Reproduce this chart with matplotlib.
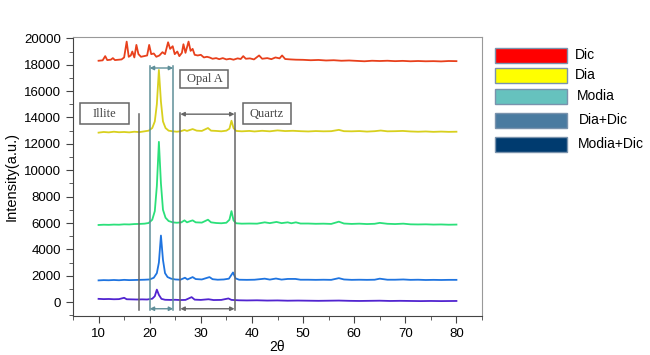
import matplotlib
matplotlib.use('Agg')
import matplotlib.pyplot as plt
from matplotlib.patches import Rectangle

plt.rcParams['font.family'] = ['Liberation Sans', 'DejaVu Sans']

# XRD traces, points (2theta, intensity)
dic_pts = [(10, 18300), (10.8, 18330), (11.3, 18650), (11.7, 18350), (12.4, 18380), (12.8, 18500),
           (13.2, 18350), (14.5, 18400), (15.0, 18550), (15.5, 19750), (15.9, 18600), (16.3, 18700),
           (16.6, 19000), (17.0, 18550), (17.4, 19500), (17.8, 18800), (18.3, 18600), (18.9, 18650),
           (19.5, 18700), (19.9, 19500), (20.3, 18800), (20.8, 18850), (21.3, 18600), (21.9, 18700),
           (22.5, 18950), (23.0, 18800), (23.6, 19700), (24.0, 19200), (24.5, 19400), (24.9, 18800),
           (25.4, 19000), (25.8, 18650), (26.3, 18900), (26.6, 19550), (27.0, 18900), (27.6, 19750),
           (28.0, 19050), (28.4, 19200), (28.8, 18750), (29.4, 18700), (30.0, 18750), (30.6, 18550),
           (31.2, 18600), (31.7, 18550), (32.3, 18450), (33.0, 18500), (33.6, 18420), (34.3, 18500),
           (35.0, 18400), (35.7, 18450), (36.4, 18380), (37.2, 18480), (37.8, 18430), (38.3, 18650),
           (38.8, 18450), (39.6, 18480), (40.4, 18400), (41.4, 18700), (42.0, 18450), (43.0, 18500),
           (43.8, 18420), (44.6, 18550), (45.4, 18480), (45.9, 18700), (46.5, 18430), (47.6, 18400),
           (48.6, 18380), (50, 18370), (51.5, 18340), (53, 18360), (54.5, 18320), (56, 18340),
           (57.5, 18300), (59, 18320), (60.5, 18290), (62, 18260), (63.5, 18300), (65, 18280),
           (66.5, 18300), (68, 18270), (69.5, 18290), (71, 18260), (72.5, 18280), (74, 18260),
           (75.5, 18270), (77, 18250), (78.5, 18280), (80, 18270)]

dia_pts = [(10, 12850), (11, 12900), (12, 12870), (13, 12920), (14, 12880), (15, 12900), (16, 12870),
           (17, 12920), (18, 12890), (19, 12950), (19.8, 13000), (20.5, 13200), (21.0, 13700),
           (21.4, 15000), (21.8, 17600), (22.2, 15200), (22.6, 13700), (23.1, 13200), (23.7, 13000),
           (24.5, 12950), (25.3, 12920), (26.0, 12950), (26.8, 13050), (27.3, 12980), (28.4, 13120),
           (29.2, 13000), (30.2, 12980), (31.4, 13200), (32.0, 13000), (33.0, 12980), (34.0, 12950),
           (35.0, 13000), (35.6, 13150), (36.0, 13750), (36.4, 13200), (36.9, 12980), (38, 12950),
           (39.5, 12980), (40.5, 12940), (42, 12990), (43.5, 12950), (45, 13020), (46.5, 12970),
           (48, 12990), (49.5, 12960), (51, 12940), (52.5, 12970), (54, 12950), (55.5, 12960),
           (57, 13060), (58, 12960), (59.5, 12950), (61, 12970), (62.5, 12930), (64, 12960),
           (65.2, 13010), (66.5, 12950), (68, 12960), (69.5, 12980), (71, 12940), (72.5, 12920),
           (74, 12940), (75.5, 12910), (77, 12930), (78.5, 12910), (80, 12920)]

modia_pts = [(10, 5850), (11, 5870), (12, 5860), (13, 5880), (14, 5870), (15, 5900), (16, 5890),
             (17, 5920), (18, 5930), (19, 5950), (19.8, 6000), (20.5, 6250), (21.0, 6900),
             (21.4, 8800), (21.8, 12150), (22.2, 9000), (22.6, 7000), (23.1, 6400), (23.7, 6150),
             (24.5, 6050), (25.3, 6020), (26.2, 6050), (26.8, 6200), (27.3, 6050), (28.0, 6150),
             (28.4, 6200), (29.0, 6050), (30.2, 6030), (31.4, 6250), (32.0, 6050), (33.0, 6000),
             (34.0, 5980), (35.0, 6020), (35.6, 6250), (36.0, 6900), (36.4, 6200), (36.9, 5980),
             (38, 5950), (39.5, 5960), (41, 5950), (42.5, 6050), (43.5, 5990), (44.8, 6080),
             (45.8, 5990), (47, 6050), (47.7, 5980), (48.6, 6050), (49.5, 5960), (51, 5960),
             (52.5, 5940), (54, 5950), (55.5, 5930), (57, 6100), (58, 5960), (59.5, 5930),
             (61, 5950), (62.5, 5920), (64, 5940), (65, 6010), (66.5, 5940), (68, 5920),
             (69.6, 5950), (71, 5900), (72.5, 5890), (74, 5900), (75.5, 5880), (77, 5890),
             (78.5, 5870), (80, 5880)]

diadic_pts = [(10, 1650), (11, 1670), (12, 1660), (13, 1680), (14, 1660), (15, 1690), (16, 1670),
              (17, 1680), (18, 1690), (19, 1700), (20, 1720), (20.8, 1850), (21.4, 2200),
              (21.8, 3000), (22.2, 5050), (22.6, 3200), (23.0, 2200), (23.5, 1900), (24.2, 1780),
              (25.0, 1720), (26.0, 1700), (26.9, 1850), (27.4, 1720), (28.4, 1900), (29.0, 1750),
              (30.2, 1720), (31.7, 1900), (32.3, 1740), (33.3, 1700), (34.5, 1720), (35.5, 1780),
              (36.3, 2250), (36.8, 1800), (37.5, 1700), (39, 1690), (40.5, 1700), (42.5, 1780),
              (43.5, 1710), (44.7, 1790), (45.8, 1710), (47, 1760), (48.5, 1760), (49.5, 1700),
              (51, 1700), (52.5, 1690), (54, 1700), (55.5, 1690), (57, 1820), (58, 1720),
              (59.5, 1690), (61, 1700), (62.5, 1690), (64, 1700), (65, 1780), (66.5, 1700),
              (68, 1700), (69.6, 1720), (71, 1690), (72.5, 1700), (74, 1680), (75.5, 1690),
              (77, 1680), (78.5, 1690), (80, 1690)]

modiadic_pts = [(10, 250), (11, 230), (12, 240), (13, 220), (14, 230), (15, 330), (15.5, 220),
                (16.5, 210), (17.5, 200), (18.5, 210), (19.5, 200), (20.5, 260), (21.0, 450),
                (21.4, 950), (21.8, 550), (22.3, 250), (23, 180), (24, 170), (25, 180), (26, 160),
                (27, 170), (28.2, 380), (28.8, 190), (30, 170), (31.5, 220), (32.5, 160), (34, 170),
                (35.4, 280), (36, 170), (37.5, 140), (39, 130), (41, 140), (43, 120), (45, 130),
                (47, 110), (49, 120), (51, 110), (53, 100), (55, 110), (57, 120), (59, 100),
                (61, 90), (63, 100), (65, 110), (67, 90), (69, 100), (71, 90), (73, 80), (75, 90),
                (77, 80), (80, 90)]

trace_list = [dic_pts, dia_pts, modia_pts, diadic_pts, modiadic_pts]
trace_colors = ['#E8401C', '#D8D01E', '#2BE07A', '#1F74E0', '#5124D0']

leg_labels = ['Dic', 'Dia', 'Modia', 'Dia+Dic', 'Modia+Dic']
leg_colors = ['#FF0000', '#FFFF00', '#66C2BE', '#4A7BA0', '#003B6F']

fig = plt.figure(figsize=(6.5, 3.55), dpi=100)
ax = fig.add_axes([73 / 650, 1 - 316 / 355, (482 - 73) / 650, (316 - 37) / 355])

for pts, c in zip(trace_list, trace_colors):
    xs = [p[0] for p in pts]
    ys = [p[1] for p in pts]
    ax.plot(xs, ys, color=c, lw=1.3)

# phase markers
dark = '#666666'
teal = '#5f8f99'
ax.plot([18.0, 18.0], [-600, 14250], color=dark, lw=1.1)
for xv in [20.0, 24.6]:
    ax.plot([xv, xv], [-600, 17900], color=teal, lw=1.1)
for xv in [26.0, 36.6]:
    ax.plot([xv, xv], [-600, 14350], color=dark, lw=1.1)

arr = dict(arrowstyle='<|-|>', mutation_scale=6, lw=1.0, shrinkA=0, shrinkB=0)
ax.annotate('', xy=(20.0, 17750), xytext=(24.6, 17750), arrowprops=dict(arr, color=teal))
ax.annotate('', xy=(20.0, -500), xytext=(24.6, -500), arrowprops=dict(arr, color=teal))
ax.annotate('', xy=(26.0, 14250), xytext=(36.6, 14250), arrowprops=dict(arr, color=dark))
ax.annotate('', xy=(26.0, -500), xytext=(36.6, -500), arrowprops=dict(arr, color=dark))

# label boxes
boxes = [('Illite', 6.45, 13490, 9.45, 1590),
         ('Opal A', 26.0, 16210, 9.4, 1370),
         ('Quartz', 38.2, 13490, 9.5, 1590)]
for txt, bx, by, bw, bh in boxes:
    ax.add_patch(Rectangle((bx, by), bw, bh, fill=False, edgecolor=dark, lw=1.1))
    ax.text(bx + bw / 2, by + bh / 2, txt, ha='center', va='center', fontsize=9,
            family='Liberation Serif', color='#444444')

ax.set_xlim(5, 85)
ax.set_ylim(-1050, 20100)
ax.set_xticks(range(10, 81, 10))
ax.set_xticks(range(5, 86, 10), minor=True)
ax.set_yticks(range(0, 20001, 2000))
ax.set_yticks(range(-1000, 20001, 1000), minor=True)
ax.tick_params(axis='both', which='major', direction='out', length=5, labelsize=9.5, color='#444444')
ax.tick_params(axis='both', which='minor', direction='out', length=3, color='#444444')
for s in ['left', 'bottom']:
    ax.spines[s].set_color('#444444')
for s in ['top', 'right']:
    ax.spines[s].set_color('#999999')
ax.set_ylabel('Intensity(a.u.)', fontsize=10.5, labelpad=4)
ax.set_xlabel('2θ', fontsize=10)
ax.xaxis.set_label_coords(0.5, -0.085)

# legend drawn as boxes on the right
row_top = [48, 68, 89, 113, 137]
text_x = [575, 575, 577, 579, 578]
for lab, c, yt, tx in zip(leg_labels, leg_colors, row_top, text_x):
    fig.add_artist(Rectangle((495 / 650, 1 - (yt + 14.5) / 355), 72 / 650, 14.5 / 355,
                             transform=fig.transFigure, facecolor=c, edgecolor='#7a93ad', lw=1.0))
    fig.text(tx / 650, 1 - (yt + 7) / 355, lab, fontsize=10, va='center', ha='left')

fig.savefig('out.png', dpi=100)
